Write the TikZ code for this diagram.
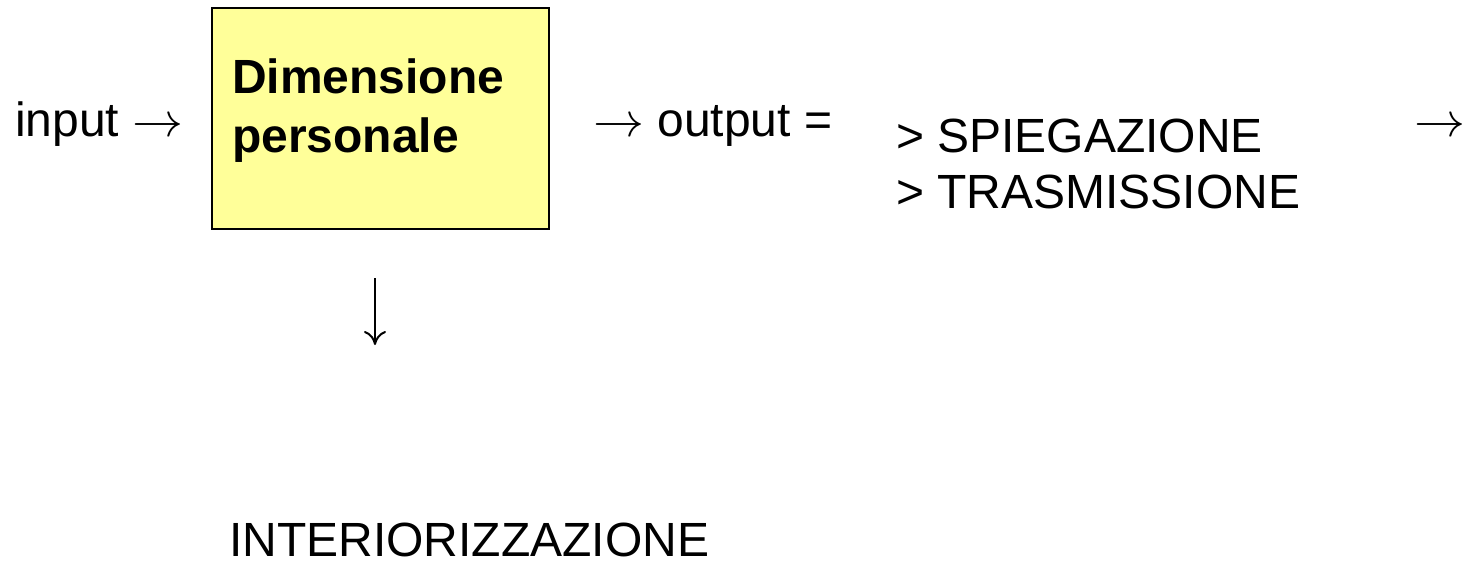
\documentclass[tikz,border=0pt]{standalone}
\usepackage{fontspec}
\setmainfont{Liberation Sans}
\usetikzlibrary{arrows.meta}
\definecolor{boxyellow}{HTML}{FFFF99}
% arrow glyph taken from the 10pt math font and enlarged
\newcommand{\bigright}{{\normalsize\scalebox{5.1}[4.8]{$\rightarrow$}}}
\begin{document}
\begin{tikzpicture}[x=1pt,y=-1pt,
  lbl/.style={inner sep=0pt, anchor=base west, align=left,
    font=\fontsize{48}{56}\selectfont},
  panel/.style={draw=black, line width=2pt, fill=boxyellow, inner sep=0pt},
  downarrow/.style={line width=2pt, -{To[length=14pt,width=22pt]}},
]
\useasboundingbox (0,0) rectangle (1470,562);
% yellow block (base anchor of a two-line node is its last line)
\node[panel, minimum width=337pt, minimum height=221pt] (dim) at (380.5,118.5) {};
\node[lbl, font=\fontsize{48}{59}\selectfont\bfseries] (dimtxt) at (232,152) {Dimensione\\personale};
% first row
\node[lbl] (input) at (15,136) {input \bigright};
\node[lbl] (output) at (593,136) {\bigright{} output =};
\node[lbl] (list) at (896,208) {> SPIEGAZIONE\\> TRASMISSIONE};
\node[lbl] (next) at (1414,136) {\bigright};
% downward branch
\coordinate (dtop) at (375,278);
\coordinate (dbot) at (375,345);
\draw[downarrow] (dtop) -- (dbot);
\node[lbl] (inter) at (229,556) {INTERIORIZZAZIONE};
\end{tikzpicture}
\end{document}
